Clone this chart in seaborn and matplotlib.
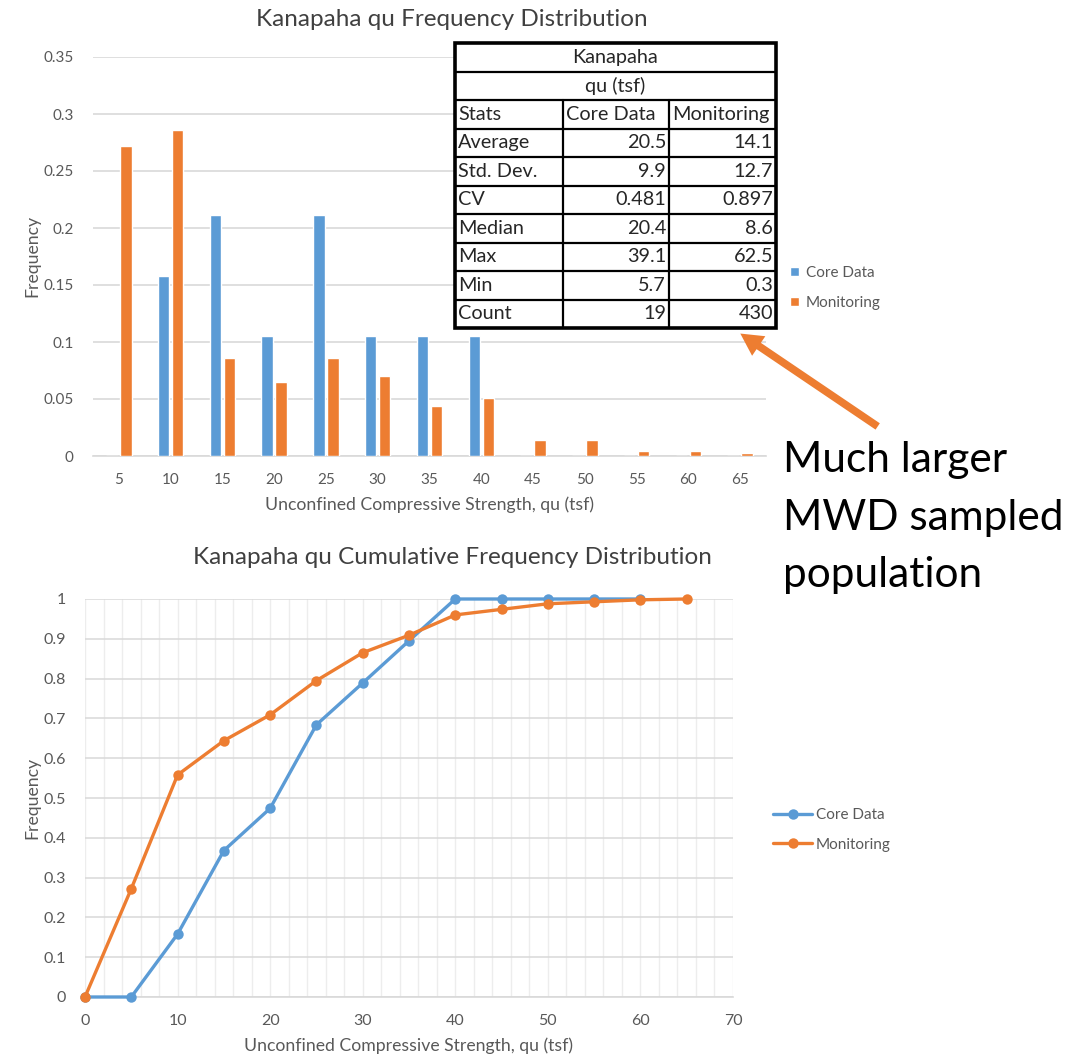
import matplotlib
matplotlib.use("Agg")
import matplotlib.pyplot as plt
from matplotlib.patches import FancyArrowPatch, Rectangle
from matplotlib.ticker import MultipleLocator
import pandas as pd
import seaborn as sns

# ---- data -------------------------------------------------------------
bins = [5, 10, 15, 20, 25, 30, 35, 40, 45, 50, 55, 60, 65]
core_freq = [0.0, 0.158, 0.211, 0.105, 0.211, 0.105, 0.105, 0.105,
             0.0, 0.0, 0.0, 0.0, 0.0]
mon_freq = [0.272, 0.286, 0.086, 0.065, 0.086, 0.070, 0.044, 0.051,
            0.014, 0.014, 0.0047, 0.0047, 0.0023]

core_cum_x = [0, 5, 10, 15, 20, 25, 30, 35, 40, 45, 50, 55, 60]
core_cum = [0.0, 0.0, 0.158, 0.368, 0.474, 0.684, 0.789, 0.895,
            1.0, 1.0, 1.0, 1.0, 1.0]
mon_cum_x = [0, 5, 10, 15, 20, 25, 30, 35, 40, 45, 50, 55, 60, 65]
mon_cum = [0.0, 0.272, 0.558, 0.644, 0.709, 0.795, 0.865, 0.909,
           0.960, 0.974, 0.988, 0.993, 0.998, 1.0]

series = ["Core Data", "Monitoring"]
stat_names = ["Average", "Std. Dev.", "CV", "Median", "Max", "Min", "Count"]
core_stats = ["20.5", "9.9", "0.481", "20.4", "39.1", "5.7", "19"]
mon_stats = ["14.1", "12.7", "0.897", "8.6", "62.5", "0.3", "430"]
callout_lines = ["Much larger", "MWD sampled", "population"]

BLUE = "#5B9BD5"
ORANGE = "#ED7D31"
GRID = "#D9D9D9"
GRID_LIGHT = "#EDEDED"
TXT = "#595959"
TITLE = "#404040"

sns.set_theme(style="white")
plt.rcParams["font.family"] = ["Lato", "DejaVu Sans"]

W, H = 1073, 1058
fig = plt.figure(figsize=(W / 100, H / 100), dpi=100)


def fx(px):
    return px / W


def fy(py):
    return 1 - py / H


AXIS_TITLE_FS = 12.7

# ---- frequency distribution (bars) -------------------------------------
freq_df = pd.DataFrame({
    "bin": [str(b) for b in bins] * 2,
    "freq": core_freq + mon_freq,
    "series": [series[0]] * len(bins) + [series[1]] * len(bins),
})
ax1 = fig.add_axes([fx(93), fy(456), fx(766 - 93), (456 - 57) / H])
sns.barplot(data=freq_df, x="bin", y="freq", hue="series",
            order=[str(b) for b in bins], hue_order=series,
            palette=[BLUE, ORANGE], width=0.54, gap=0.18,
            saturation=1, ax=ax1, zorder=3)
ax1.set_xlim(-0.5, len(bins) - 0.5)
ax1.set_ylim(0, 0.35)
ax1.set_yticks([0, 0.05, 0.1, 0.15, 0.2, 0.25, 0.3, 0.35])
ax1.set_yticklabels(["0", "0.05", "0.1", "0.15", "0.2", "0.25", "0.3", "0.35"])
ax1.grid(axis="y", color=GRID, linewidth=1.2, zorder=0)
ax1.set_axisbelow(True)
for s in ["top", "right", "left"]:
    ax1.spines[s].set_visible(False)
ax1.spines["bottom"].set_color(GRID)
ax1.spines["bottom"].set_linewidth(1.2)
ax1.tick_params(axis="both", length=0, labelsize=11, labelcolor=TXT)
ax1.tick_params(axis="y", pad=14)
ax1.tick_params(axis="x", pad=12)
ax1.set_xlabel("Unconfined Compressive Strength, qu (tsf)",
               fontsize=AXIS_TITLE_FS, color=TXT)
ax1.set_ylabel("Frequency", fontsize=AXIS_TITLE_FS, color=TXT)
ax1.xaxis.set_label_coords(0.5, (456 - 505) / 399)
ax1.xaxis.label.set_va("center")
ax1.yaxis.set_label_coords((32 - 93) / 673, (456 - 256) / 399)
ax1.yaxis.label.set_va("center")
sns.move_legend(ax1, loc="center left",
                bbox_to_anchor=((776 - 93) / 673, (456 - 288) / 399),
                frameon=False, title=None, fontsize=11, handlelength=0.6,
                handleheight=0.6, handletextpad=0.45, labelspacing=1.05,
                labelcolor=TXT)
fig.text(fx(452), fy(19), "Kanapaha qu Frequency Distribution",
         ha="center", va="center", fontsize=17.5, color=TITLE)

# ---- cumulative frequency (lines) ---------------------------------------
cum_df = pd.DataFrame({
    "qu": core_cum_x + mon_cum_x,
    "cum": core_cum + mon_cum,
    "series": [series[0]] * len(core_cum_x) + [series[1]] * len(mon_cum_x),
})
ax2 = fig.add_axes([fx(85), fy(997), fx(733 - 85), (997 - 599) / H])
sns.lineplot(data=cum_df, x="qu", y="cum", hue="series", hue_order=series,
             palette=[BLUE, ORANGE], marker="o", markersize=7.5,
             markeredgewidth=0, linewidth=2.4, ax=ax2, zorder=3)
for ln in ax2.lines:
    ln.set_clip_on(False)
ax2.set_xlim(0, 70)
ax2.set_ylim(0, 1)
ax2.xaxis.set_major_locator(MultipleLocator(10))
ax2.xaxis.set_minor_locator(MultipleLocator(2))
ax2.set_yticks([i / 10 for i in range(11)])
ax2.set_yticklabels(["0"] + [f"{i / 10:g}" for i in range(1, 10)] + ["1"])
ax2.grid(which="major", axis="y", color=GRID, linewidth=1.1, zorder=0)
ax2.grid(which="both", axis="x", color=GRID_LIGHT, linewidth=1.0, zorder=0)
ax2.set_axisbelow(True)
for s in ["top", "right", "left"]:
    ax2.spines[s].set_visible(False)
ax2.spines["bottom"].set_color(GRID)
ax2.spines["bottom"].set_linewidth(1.2)
ax2.tick_params(axis="both", which="both", length=0, labelsize=11.5,
                labelcolor=TXT)
ax2.tick_params(axis="y", pad=14)
ax2.tick_params(axis="x", pad=12)
ax2.set_xlabel("Unconfined Compressive Strength, qu (tsf)",
               fontsize=AXIS_TITLE_FS, color=TXT)
ax2.set_ylabel("Frequency", fontsize=AXIS_TITLE_FS, color=TXT)
ax2.xaxis.set_label_coords(0.5, (997 - 1046) / 398)
ax2.xaxis.label.set_va("center")
ax2.yaxis.set_label_coords((32 - 85) / 648, (997 - 798) / 398)
ax2.yaxis.label.set_va("center")
sns.move_legend(ax2, loc="center left",
                bbox_to_anchor=((759 - 85) / 648, (997 - 830) / 398),
                frameon=False, title=None, fontsize=11, handlelength=2.6,
                handletextpad=0.2, labelspacing=1.0, labelcolor=TXT)
fig.text(fx(452), fy(557), "Kanapaha qu Cumulative Frequency Distribution",
         ha="center", va="center", fontsize=17.5, color=TITLE)

# ---- statistics table ---------------------------------------------------
tw, th = 321, 285
axt = fig.add_axes([fx(455), fy(328), fx(tw), th / H])
axt.set_xlim(0, tw)
axt.set_ylim(th, 0)
axt.axis("off")
axt.add_patch(Rectangle((0, 0), tw, th, facecolor="white",
                        edgecolor="none", zorder=0))
rh = th / 10
cols = [0, 108, 214, tw]
lw = 1.6
for r in range(1, 10):
    axt.plot([0, tw], [r * rh, r * rh], color="black", lw=lw, zorder=2)
for c in cols[1:3]:
    axt.plot([c, c], [2 * rh, th], color="black", lw=lw, zorder=2)
axt.add_patch(Rectangle((0, 0), tw, th, facecolor="none",
                        edgecolor="black", lw=2.6, zorder=3, clip_on=False))
fs = 14.3
axt.text(tw / 2, 0.5 * rh, "Kanapaha", ha="center", va="center", fontsize=fs)
axt.text(tw / 2, 1.5 * rh, "qu (tsf)", ha="center", va="center", fontsize=fs)
axt.text(cols[0] + 3, 2.5 * rh, "Stats", ha="left", va="center", fontsize=fs)
axt.text(cols[1] + 3, 2.5 * rh, series[0], ha="left", va="center", fontsize=fs)
axt.text(cols[2] + 3, 2.5 * rh, series[1], ha="left", va="center", fontsize=fs)
for i, (name, cv, mv) in enumerate(zip(stat_names, core_stats, mon_stats)):
    yc = (3.5 + i) * rh
    axt.text(cols[0] + 3, yc, name, ha="left", va="center", fontsize=fs)
    axt.text(cols[2] - 3, yc, cv, ha="right", va="center", fontsize=fs)
    axt.text(cols[3] - 3, yc, mv, ha="right", va="center", fontsize=fs)

# ---- call-out ---------------------------------------------------------
fig.patches.append(FancyArrowPatch(
    (fx(880), fy(428)), (fx(738), fy(332)), transform=fig.transFigure,
    arrowstyle="simple,head_width=1.7,head_length=1.6,tail_width=0.55",
    mutation_scale=10, color=ORANGE, lw=0))
for line, base in zip(callout_lines, [472, 530, 587]):
    fig.text(fx(783), fy(base), line, ha="left", va="baseline",
             fontsize=30.5, color="black")

fig.savefig("out.png", dpi=100)
